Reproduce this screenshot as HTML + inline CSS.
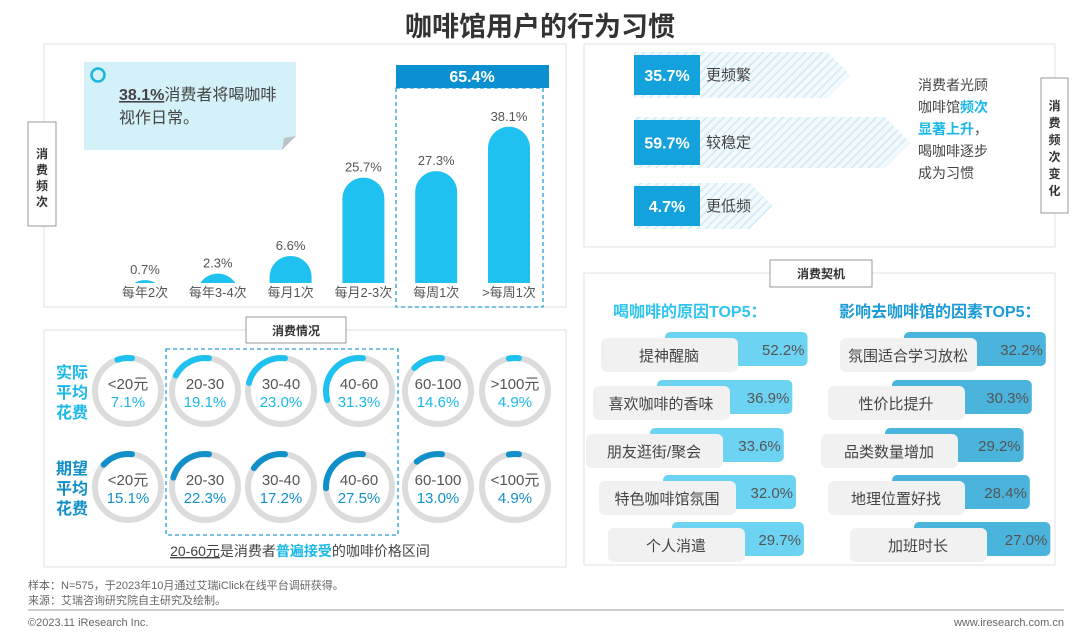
<!DOCTYPE html>
<html><head><meta charset="utf-8">
<style>
body{margin:0;background:#fff;}
svg{display:block;font-family:"Liberation Sans","Noto Sans CJK SC",sans-serif;}
</style></head>
<body>
<svg id="chart" width="1080" height="644" viewBox="0 0 1080 644" xmlns="http://www.w3.org/2000/svg">
<defs>
<pattern id="hatch" width="6" height="6" patternUnits="userSpaceOnUse" patternTransform="rotate(45)">
<rect width="6" height="6" fill="#f3fafd"/><line x1="0" y1="0" x2="0" y2="6" stroke="#cfeaf6" stroke-width="3"/>
</pattern>
</defs>
<text x="540" y="36" text-anchor="middle" font-size="27" font-weight="bold" fill="#333">咖啡馆用户的行为习惯</text>

<!-- panel 1 -->
<rect x="44" y="44" width="522" height="263" fill="none" stroke="#e2e2e2"/>
<g>
<rect x="28" y="122" width="28" height="104" fill="#fff" stroke="#999"/>
<text x="42" y="158" text-anchor="middle" font-size="12" font-weight="bold" fill="#333">消</text>
<text x="42" y="174" text-anchor="middle" font-size="12" font-weight="bold" fill="#333">费</text>
<text x="42" y="190" text-anchor="middle" font-size="12" font-weight="bold" fill="#333">频</text>
<text x="42" y="206" text-anchor="middle" font-size="12" font-weight="bold" fill="#333">次</text>
</g>
<g>
<path d="M84 62 H296 V136 L282 150 H84 Z" fill="#d4f0f9"/>
<path d="M282 150 L284 138 L296 136 Z" fill="#b9c4c8"/>
<circle cx="98" cy="75" r="6.5" fill="none" stroke="#1ab6dc" stroke-width="2.5"/>
<text x="119" y="100" font-size="16" fill="#444"><tspan font-weight="bold" text-decoration="underline">38.1%</tspan>消费者将喝咖啡</text>
<text x="119" y="123" font-size="16" fill="#444">视作日常。</text>
</g>
<g>
<rect x="396" y="88" width="147" height="219" fill="none" stroke="#2a9fd6" stroke-dasharray="4,3" stroke-width="1.3"/>
<rect x="396" y="65" width="153" height="23" fill="#0a8fd0"/>
<text x="472" y="82" text-anchor="middle" font-size="16" font-weight="bold" fill="#fff">65.4%</text>
</g>
<g id="bars"></g>

<!-- panel 2 -->
<rect x="44" y="330" width="522" height="237" fill="none" stroke="#e2e2e2"/>
<g>
<rect x="246" y="317" width="100" height="26" fill="#fff" stroke="#999"/>
<text x="296" y="335" text-anchor="middle" font-size="12" font-weight="bold" fill="#333">消费情况</text>
</g>
<g font-size="16" font-weight="bold" fill="#1ab8e8">
<text x="72" y="378" text-anchor="middle">实际</text>
<text x="72" y="398" text-anchor="middle">平均</text>
<text x="72" y="418" text-anchor="middle">花费</text>
</g>
<g font-size="16" font-weight="bold" fill="#108fc8">
<text x="72" y="474" text-anchor="middle">期望</text>
<text x="72" y="494" text-anchor="middle">平均</text>
<text x="72" y="514" text-anchor="middle">花费</text>
</g>
<rect x="166" y="349" width="232" height="186" fill="none" stroke="#2a9fd6" stroke-dasharray="4,3" stroke-width="1.3"/>
<g id="rings"></g>
<text x="300" y="556" text-anchor="middle" font-size="14" fill="#444"><tspan text-decoration="underline">20-60元</tspan>是消费者<tspan fill="#1ab8e8" font-weight="bold">普遍接受</tspan>的咖啡价格区间</text>

<!-- panel 3 -->
<rect x="584" y="44" width="471" height="203" fill="none" stroke="#e2e2e2"/>
<g id="arrows"></g>
<g font-size="14" fill="#444">
<text x="918" y="90">消费者光顾</text>
<text x="918" y="112">咖啡馆<tspan fill="#1ab8e8" font-weight="bold">频次</tspan></text>
<text x="918" y="134" fill="#1ab8e8" font-weight="bold">显著上升<tspan fill="#444" font-weight="normal">，</tspan></text>
<text x="918" y="156">喝咖啡逐步</text>
<text x="918" y="178">成为习惯</text>
</g>
<g>
<rect x="1041" y="78" width="27" height="135" fill="#fff" stroke="#999"/>
<text x="1054.5" y="110" text-anchor="middle" font-size="12" font-weight="bold" fill="#333">消</text>
<text x="1054.5" y="127" text-anchor="middle" font-size="12" font-weight="bold" fill="#333">费</text>
<text x="1054.5" y="144" text-anchor="middle" font-size="12" font-weight="bold" fill="#333">频</text>
<text x="1054.5" y="161" text-anchor="middle" font-size="12" font-weight="bold" fill="#333">次</text>
<text x="1054.5" y="178" text-anchor="middle" font-size="12" font-weight="bold" fill="#333">变</text>
<text x="1054.5" y="195" text-anchor="middle" font-size="12" font-weight="bold" fill="#333">化</text>
</g>

<!-- panel 4 -->
<rect x="584" y="273" width="471" height="292" fill="none" stroke="#e2e2e2"/>
<g>
<rect x="770" y="260" width="102" height="27" fill="#fff" stroke="#999"/>
<text x="821" y="278" text-anchor="middle" font-size="12" font-weight="bold" fill="#333">消费契机</text>
</g>
<text x="613" y="317" font-size="16" font-weight="bold" fill="#2ec4ee">喝咖啡的原因TOP5：</text>
<text x="839" y="317" font-size="16" font-weight="bold" fill="#1a9ad6">影响去咖啡馆的因素TOP5：</text>
<g id="tops"></g>

<!-- footer -->
<text x="28" y="589" font-size="11" fill="#666">样本：N=575，于2023年10月通过艾瑞iClick在线平台调研获得。</text>
<text x="28" y="604" font-size="11" fill="#666">来源：艾瑞咨询研究院自主研究及绘制。</text>
<line x1="28" y1="610" x2="1064" y2="610" stroke="#999"/>
<text x="28" y="626" font-size="11" fill="#666">©2023.11 iResearch Inc.</text>
<text x="1064" y="626" text-anchor="end" font-size="11" fill="#666">www.iresearch.com.cn</text>
</svg>
<script>
const freqCats = ["每年2次","每年3-4次","每月1次","每月2-3次","每周1次",">每周1次"];
const freqVals = [0.7,2.3,6.6,25.7,27.3,38.1];
const priceCatsActual = ["<20元","20-30","30-40","40-60","60-100",">100元"];
const priceCatsExpected = ["<20元","20-30","30-40","40-60","60-100","<100元"];
const actualVals = [7.1,19.1,23.0,31.3,14.6,4.9];
const expectedVals = [15.1,22.3,17.2,27.5,13.0,4.9];
const changeCats = ["更频繁","较稳定","更低频"];
const changeVals = [35.7,59.7,4.7];
const reasonCats = ["提神醒脑","喜欢咖啡的香味","朋友逛街/聚会","特色咖啡馆氛围","个人消遣"];
const reasonVals = [52.2,36.9,33.6,32.0,29.7];
const factorCats = ["氛围适合学习放松","性价比提升","品类数量增加","地理位置好找","加班时长"];
const factorVals = [32.2,30.3,29.2,28.4,27.0];

const NS="http://www.w3.org/2000/svg";
function mk(tag,attrs,parent,txt){const e=document.createElementNS(NS,tag);for(const k in attrs)e.setAttribute(k,attrs[k]);if(txt!==undefined)e.textContent=txt;parent.appendChild(e);return e;}

// bar chart
const bars=document.getElementById('bars');
const base=283, bw=42;
const yScale=v=>v*4.1;
const xCenter=i=>145+i*72.8;
freqVals.forEach((v,i)=>{
  const cx=xCenter(i), h=yScale(v), top=base-h, r=bw/2;
  let d;
  if(h>=r){d=`M${cx-r} ${base} V${top+r} A${r} ${r} 0 0 1 ${cx+r} ${top+r} V${base} Z`;}
  else{const hw=Math.sqrt(r*r-(r-h)*(r-h));d=`M${cx-hw} ${base} A${r} ${r} 0 0 1 ${cx+hw} ${base} Z`;}
  const p=mk('path',{d:d,fill:'#1ec1ef'},bars);
  
  
  const t=mk('text',{x:cx,y:top-6,'text-anchor':'middle','font-size':13,fill:'#555'},bars,v.toFixed(1)+'%');
  
  
  const c=mk('text',{x:cx,y:base+14,'text-anchor':'middle','font-size':13,fill:'#555'},bars,freqCats[i]);
  
  
});

// rings
const rings=document.getElementById('rings');
const ringX=[128,205,281,359,438,515], R=33;
function ring(cx,cy,val,cat,color,txtColor,name){
  const g=mk('g',{},rings);
  
  
  mk('circle',{cx:cx,cy:cy,r:R,fill:'none',stroke:'#dcdcdc','stroke-width':6},g);
  const a1=-Math.PI/2+0.12, a0=a1-val/100*2*Math.PI;
  const x0=cx+R*Math.cos(a0),y0=cy+R*Math.sin(a0),x1=cx+R*Math.cos(a1),y1=cy+R*Math.sin(a1);
  mk('path',{d:`M${x0} ${y0} A${R} ${R} 0 ${val>50?1:0} 1 ${x1} ${y1}`,fill:'none',stroke:color,'stroke-width':6,'stroke-linecap':'round'},g);
  mk('text',{x:cx,y:cy-2,'text-anchor':'middle','font-size':15,fill:'#555'},g,cat);
  mk('text',{x:cx,y:cy+16,'text-anchor':'middle','font-size':15,fill:txtColor},g,val.toFixed(1)+'%');
}
actualVals.forEach((v,i)=>ring(ringX[i],391,v,priceCatsActual[i],'#1ec1ef','#1ab8e8','actual-ring-'+i));
expectedVals.forEach((v,i)=>ring(ringX[i],487,v,priceCatsExpected[i],'#118fc8','#1490c8','expected-ring-'+i));

// arrows
const arrows=document.getElementById('arrows');
const arrowY=[52,117,183], arrowH=[46,51,46];
const arrowLen=v=>127+v*2.5;
changeVals.forEach((v,i)=>{
  const y=arrowY[i],h=arrowH[i],x0=634,x1=x0+arrowLen(v);
  const g=mk('g',{},arrows);
  
  
  mk('path',{d:`M${x0} ${y} H${x1-h/2} L${x1} ${y+h/2} L${x1-h/2} ${y+h} H${x0} Z`,fill:'url(#hatch)'},g);
  mk('rect',{x:x0,y:y+3,width:66,height:h-6,fill:'#14a2dc'},g);
  mk('text',{x:x0+33,y:y+h/2+6,'text-anchor':'middle','font-size':16,'font-weight':'bold',fill:'#fff'},g,v.toFixed(1)+'%');
  mk('text',{x:x0+72,y:y+h/2+5,'font-size':15,fill:'#444'},g,changeCats[i]);
});

// top5
const tops=document.getElementById('tops');
const rowY=[332,380,428,475,522];
const leftGX=[601,593,586,599,608], rightGX=[840,828,821,828,850];
function topRow(gx,y,cat,val,w,color,name){
  const g=mk('g',{},tops);
  
  
  mk('rect',{x:gx+64,y:y,width:w,height:34,rx:5,fill:color},g);
  mk('rect',{x:gx,y:y+6,width:137,height:34,rx:6,fill:'#f1f1f1'},g);
  mk('text',{x:gx+68,y:y+29,'text-anchor':'middle','font-size':15,fill:'#444'},g,cat);
  mk('text',{x:gx+64+w-3,y:y+23,'text-anchor':'end','font-size':15,fill:'#555'},g,val.toFixed(1)+'%');
}
reasonVals.forEach((v,i)=>topRow(leftGX[i],rowY[i],reasonCats[i],v,118+v*0.47,'#6dd3f3','reason-row-'+i));
factorVals.forEach((v,i)=>topRow(rightGX[i],rowY[i],factorCats[i],v,108+v*1.05,'#4ab4dc','factor-row-'+i));
</script>
</body></html>
